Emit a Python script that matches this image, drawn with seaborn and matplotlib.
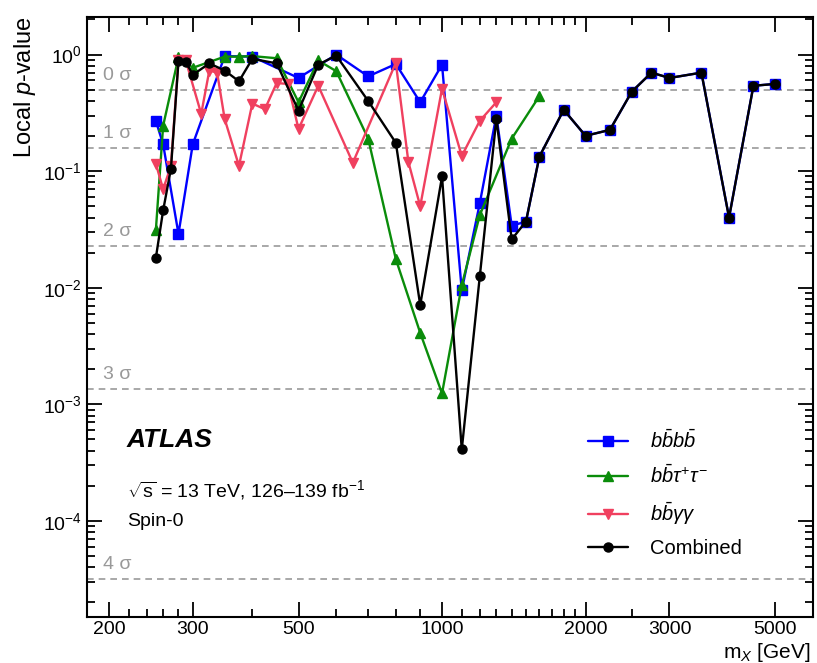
import numpy as np
import pandas as pd
import seaborn as sns
import matplotlib
matplotlib.use('Agg')
import matplotlib.pyplot as plt
from matplotlib.ticker import FixedLocator, NullFormatter, LogLocator
from matplotlib.lines import Line2D

# Data (mass in GeV, local p-value)
m_4b = [251, 260, 280, 300, 350, 400, 500, 600, 700, 800, 900, 1000, 1100, 1200, 1300,
        1400, 1500, 1600, 1800, 2000, 2250, 2500, 2750, 3000, 3500, 4000, 4500, 5000]
p_4b = [0.27, 0.17, 0.029, 0.17, 0.97, 0.96, 0.63, 1.0, 0.65, 0.83, 0.39, 0.82, 0.0095, 0.053, 0.30,
        0.034, 0.037, 0.133, 0.336, 0.201, 0.226, 0.48, 0.70, 0.63, 0.70, 0.040, 0.54, 0.56]

m_tt = [251, 260, 280, 300, 350, 375, 400, 450, 500, 550, 600, 700, 800, 900, 1000,
        1100, 1200, 1400, 1600]
p_tt = [0.031, 0.245, 0.95, 0.77, 0.96, 0.96, 0.97, 0.93, 0.39, 0.89, 0.72, 0.19, 0.0176, 0.0041, 0.00124,
        0.0105, 0.042, 0.19, 0.44]

m_yy = [251, 260, 270, 280, 290, 312.5, 325, 337.5, 350, 375, 400, 425, 450, 475, 500,
        550, 650, 800, 850, 900, 1000, 1100, 1200, 1300]
p_yy = [0.116, 0.070, 0.111, 0.90, 0.89, 0.31, 0.73, 0.70, 0.28, 0.111, 0.38, 0.34, 0.57, 0.56, 0.23,
        0.54, 0.118, 0.85, 0.12, 0.050, 0.51, 0.135, 0.27, 0.39]

m_comb = [251, 260, 270, 280, 290, 300, 325, 350, 375, 400, 450, 500, 550, 600, 700, 800, 900,
          1000, 1100, 1200, 1300, 1400, 1500, 1600, 1800, 2000, 2250, 2500, 2750, 3000, 3500,
          4000, 4500, 5000]
p_comb = [0.018, 0.046, 0.105, 0.88, 0.87, 0.67, 0.84, 0.73, 0.59, 0.92, 0.84, 0.33, 0.82, 0.98,
          0.40, 0.175, 0.0071, 0.090, 0.00041, 0.0125, 0.28, 0.026, 0.037, 0.133, 0.336, 0.201,
          0.226, 0.48, 0.70, 0.63, 0.70, 0.040, 0.54, 0.56]

sigma_labels = ['0 σ', '1 σ', '2 σ', '3 σ', '4 σ']
sigma_p = [0.5, 0.1587, 0.02275, 0.00135, 3.17e-5]

sns.set_theme(style='ticks')
plt.rcParams['font.family'] = ['Liberation Sans', 'DejaVu Sans']
plt.rcParams['mathtext.fontset'] = 'custom'
plt.rcParams['mathtext.rm'] = 'Liberation Sans'
plt.rcParams['mathtext.it'] = 'Liberation Sans:italic'
plt.rcParams['mathtext.bf'] = 'Liberation Sans:bold'
for key in ['text.color', 'axes.labelcolor', 'xtick.color', 'ytick.color', 'axes.edgecolor']:
    plt.rcParams[key] = 'black'

fig = plt.figure(figsize=(8.17, 6.63), dpi=100)
ax = fig.add_axes([87 / 817, 1 - 617 / 663, 726 / 817, 600 / 663])

series = [
    (m_4b, p_4b, r'$b\bar{b}b\bar{b}$', '#0000ff', 's', 6.5),
    (m_tt, p_tt, r'$b\bar{b}\tau^{+}\tau^{-}$', '#0a8c0a', '^', 7.5),
    (m_yy, p_yy, r'$b\bar{b}\gamma\gamma$', '#f0405f', 'v', 7.5),
    (m_comb, p_comb, 'Combined', 'black', 'o', 6.5),
]

handles = []
for m, p, lab, col, mk, ms in series:
    df = pd.DataFrame({'m': m, 'p': p})
    sns.lineplot(data=df, x='m', y='p', ax=ax, color=col, marker=mk, markersize=ms,
                 markeredgecolor=col, markeredgewidth=1, linewidth=1.7, sort=False)
    handles.append(Line2D([], [], color=col, marker=mk, markersize=ms, markeredgecolor=col,
                          linewidth=1.7, label=lab))

ax.set_xscale('log')
ax.set_yscale('log')
ax.set_xlim(180, 6000)
ax.set_ylim(1.5e-5, 2.1)

# sigma reference lines
for lab, p in zip(sigma_labels, sigma_p):
    ax.axhline(p, color='#999999', linestyle='--', linewidth=1.2, dashes=(4, 3), zorder=0)
    ax.text(0.022, p * 1.12, lab, transform=ax.get_yaxis_transform(), color='#999999',
            fontsize=14, va='bottom', ha='left')

# ticks
ax.xaxis.set_major_locator(FixedLocator([200, 300, 500, 1000, 2000, 3000, 5000]))
ax.xaxis.set_minor_locator(FixedLocator([220, 240, 260, 280, 400, 600, 700, 800, 900,
                                         1100, 1200, 1300, 1400, 1500, 1600, 1700, 1800, 1900,
                                         2500]))
ax.set_xticklabels(['200', '300', '500', '1000', '2000', '3000', '5000'])
ax.xaxis.set_minor_formatter(NullFormatter())
ax.yaxis.set_major_locator(LogLocator(base=10, numticks=20))
ax.yaxis.set_minor_locator(LogLocator(base=10, subs=np.arange(2, 10), numticks=20))
ax.yaxis.set_minor_formatter(NullFormatter())
ax.tick_params(which='both', direction='in', top=True, right=True, labelsize=14, width=1.3)
ax.tick_params(which='major', length=11)
ax.tick_params(which='minor', length=6)
ax.tick_params(axis='x', pad=3)
for s in ax.spines.values():
    s.set_linewidth(1.5)

ax.set_xlabel(r'm$_{X}$ [GeV]', fontsize=15)
ax.xaxis.set_label_coords(0.996, -0.04)
ax.xaxis.label.set_horizontalalignment('right')
ax.set_ylabel(r'Local $p$-value', fontsize=17, loc='top')

ax.text(0.055, 0.283, 'ATLAS', transform=ax.transAxes, fontsize=19, fontweight='bold',
        fontstyle='italic', va='baseline')
ax.text(0.055, 0.212, r'$\sqrt{\mathrm{s}}$ = 13 TeV, 126–139 fb$^{-1}$', transform=ax.transAxes,
        fontsize=14, va='center')
ax.text(0.055, 0.16, 'Spin-0', transform=ax.transAxes, fontsize=14, va='center')

ax.legend(handles=handles, loc='lower left', bbox_to_anchor=(0.69, 0.098), frameon=False,
          fontsize=14.5, handlelength=2.0, labelspacing=0.62, borderpad=0, borderaxespad=0,
          handletextpad=1.1)

fig.savefig('out.png', dpi=100)
